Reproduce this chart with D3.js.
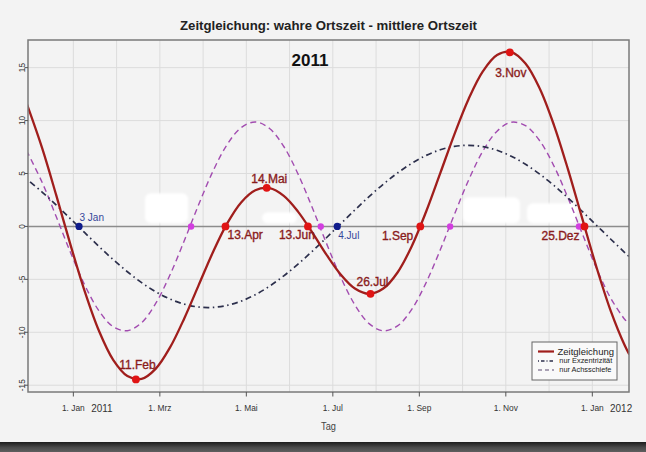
<!DOCTYPE html>
<html><head><meta charset="utf-8">
<script src="https://cdn.jsdelivr.net/npm/d3@7"></script>
<style>html,body{margin:0;padding:0;background:#f3f3f3;} svg{display:block;font-family:"Liberation Sans",Arial,sans-serif;}</style>
</head><body>
<svg id="c" width="646" height="452"></svg>
<script>
// ---- data (day offsets from 1 Jan 2011, values in minutes) ----
const days = [-33, -22, -12, -2, 8, 18, 28, 38, 48, 58, 68, 78, 88, 98, 108, 118, 128, 138, 148, 158, 168, 178, 188, 198, 208, 218, 228, 238, 248, 258, 268, 278, 288, 298, 308, 318, 328, 338, 348, 358, 368, 378, 388, 391];
const eotValues = [11.68, 7.42, 2.93, -1.74, -6.13, -9.86, -12.60, -14.13, -14.40, -13.43, -11.43, -8.69, -5.59, -2.49, 0.24, 2.27, 3.42, 3.61, 2.88, 1.40, -0.56, -2.66, -4.53, -5.86, -6.36, -5.87, -4.35, -1.87, 1.36, 5.01, 8.70, 12.04, 14.64, 16.19, 16.47, 15.39, 13.03, 9.58, 5.34, 0.71, -3.88, -8.00, -11.30, -12.08];
const eccValues = [4.50, 3.25, 2.02, 0.72, -0.59, -1.89, -3.13, -4.28, -5.31, -6.18, -6.86, -7.34, -7.61, -7.65, -7.46, -7.06, -6.45, -5.64, -4.67, -3.56, -2.35, -1.07, 0.25, 1.55, 2.82, 3.99, 5.05, 5.96, 6.70, 7.24, 7.56, 7.66, 7.53, 7.19, 6.63, 5.87, 4.94, 3.87, 2.68, 1.41, 0.10, -1.21, -2.49, -2.86];
const oblValues = [7.18, 4.17, 0.91, -2.46, -5.54, -7.97, -9.47, -9.85, -9.09, -7.25, -4.57, -1.35, 2.02, 5.16, 7.70, 9.33, 9.87, 9.25, 7.55, 4.96, 1.79, -1.59, -4.78, -7.41, -9.18, -9.86, -9.40, -7.83, -5.34, -2.23, 1.14, 4.38, 7.11, 9.00, 9.84, 9.52, 8.09, 5.71, 2.66, -0.70, -3.98, -6.79, -8.81, -9.22];

const eotDotDays = [44, 107, 136, 165, 209, 244, 307, 359.5];
const eotDotValues = [-14.45, 0, 3.65, 0, -6.37, 0, 16.45, 0];
const eotDotLabels = ["11.Feb", "13.Apr", "14.Mai", "13.Jun", "26.Jul", "1.Sep", "3.Nov", "25.Dez"];
const eccDotDays = [4, 185.6];
const eccDotValues = [0, 0];
const eccDotLabels = ["3 Jan", "4.Jul"];
const oblDotDays = [82.8, 174, 265, 355.6];
const oblDotValues = [0, 0, 0, 0];

const xTickLabels = ["1. Jan", "1. Mrz", "1. Mai", "1. Jul", "1. Sep", "1. Nov", "1. Jan"];
const yearLabels = ["2011", "2012"];
const yTicks = [-15, -10, -5, 0, 5, 10, 15];
const legendLabels = ["Zeitgleichung", "nur Exzentrizität", "nur Achsschiefe"];

// ---- layout ----
const svg = d3.select("#c");
const L = 28, R = 629, T = 40, B = 392;
const x = d3.scaleLinear().domain([-31.9, 390.8]).range([L, R]);
const y = d3.scaleLinear().domain([-15.64, 17.61]).range([B, T]);
const yearLen = 365;

const defs = svg.append("defs");
defs.append("clipPath").attr("id", "clip").append("rect").attr("x", L).attr("y", T).attr("width", R - L).attr("height", B - T);
defs.append("filter").attr("id", "soft").append("feGaussianBlur").attr("stdDeviation", 1.2);
const grad = defs.append("linearGradient").attr("id", "band").attr("x1", 0).attr("y1", 0).attr("x2", 0).attr("y2", 1);
grad.append("stop").attr("offset", "0%").attr("stop-color", "#1c1c1c");
grad.append("stop").attr("offset", "55%").attr("stop-color", "#4a4a4a");
grad.append("stop").attr("offset", "100%").attr("stop-color", "#5e5e5e");

svg.append("rect").attr("width", 646).attr("height", 452).attr("fill", "#f3f3f3");
svg.append("rect").attr("x", 0).attr("y", 442).attr("width", 646).attr("height", 10).attr("fill", "url(#band)");

// grid
const gridDays = d3.range(0, 13).map(i => i * yearLen / 12);
svg.append("g").selectAll("line").data(gridDays).join("line")
  .attr("x1", d => x(d)).attr("x2", d => x(d)).attr("y1", T).attr("y2", B)
  .attr("stroke", "#dcdcdc").attr("stroke-width", 1);
svg.append("g").selectAll("line").data(yTicks.filter(v => v !== 0)).join("line")
  .attr("x1", L).attr("x2", R).attr("y1", d => y(d)).attr("y2", d => y(d))
  .attr("stroke", "#dcdcdc").attr("stroke-width", 1);

// white patches (present in the reference image)
const patches = [[50.4, 80.7, 3.14, 0.29], [132.7, 157.3, 1.33, 0.29], [274, 314.1, 2.76, 0.29], [319.1, 354.2, 2.19, 0.29]];
svg.append("g").attr("filter", "url(#soft)").selectAll("rect").data(patches).join("rect")
  .attr("x", d => x(d[0])).attr("width", d => x(d[1]) - x(d[0]))
  .attr("y", d => y(d[2])).attr("height", d => y(d[3]) - y(d[2]))
  .attr("rx", 6).attr("fill", "#ffffff");

// zero line
svg.append("line").attr("x1", L).attr("x2", R).attr("y1", y(0)).attr("y2", y(0))
  .attr("stroke", "#8c8c8c").attr("stroke-width", 1.6);

// curves
const plot = svg.append("g").attr("clip-path", "url(#clip)");
const line = vals => d3.line().x((d, i) => x(days[i])).y(d => y(d)).curve(d3.curveCatmullRom.alpha(0.5))(vals);
plot.append("path").attr("d", line(oblValues)).attr("fill", "none")
  .attr("stroke", "#a24cb0").attr("stroke-width", 1.4).attr("stroke-dasharray", "6,4");
plot.append("path").attr("d", line(eccValues)).attr("fill", "none")
  .attr("stroke", "#2c2f4c").attr("stroke-width", 1.7).attr("stroke-dasharray", "1.5,3.5,6,3.5");
plot.append("path").attr("d", line(eotValues)).attr("fill", "none")
  .attr("stroke", "#a01e1c").attr("stroke-width", 2.3);

// frame
svg.append("rect").attr("x", L).attr("y", T).attr("width", R - L).attr("height", B - T)
  .attr("fill", "none").attr("stroke", "#7a7a7a").attr("stroke-width", 1.5);

// dots
svg.append("g").selectAll("circle").data(oblDotDays).join("circle")
  .attr("cx", d => x(d)).attr("cy", (d, i) => y(oblDotValues[i])).attr("r", 3.2).attr("fill", "#d23fe0");
svg.append("g").selectAll("circle").data(eccDotDays).join("circle")
  .attr("cx", d => x(d)).attr("cy", (d, i) => y(eccDotValues[i])).attr("r", 3.6).attr("fill", "#101c8c");
svg.append("g").selectAll("circle").data(eotDotDays).join("circle")
  .attr("cx", d => x(d)).attr("cy", (d, i) => y(eotDotValues[i])).attr("r", 3.9).attr("fill", "#e01414");

// labels
const eotOff = [[1.5, -10, "middle"], [2, 13, "start"], [2.5, -5, "middle"], [7, 13, "end"], [2, -8, "middle"], [-7, 14, "end"], [1, 24.5, "middle"], [-5, 14, "end"]];
svg.append("g").selectAll("text").data(eotDotLabels).join("text")
  .attr("x", (d, i) => x(eotDotDays[i]) + eotOff[i][0])
  .attr("y", (d, i) => y(eotDotValues[i]) + eotOff[i][1])
  .attr("text-anchor", (d, i) => eotOff[i][2])
  .attr("font-size", 12).attr("fill", "#8a1c1c").attr("stroke", "#8a1c1c").attr("stroke-width", 0.35)
  .text(d => d);
const eccOff = [[0.5, -5], [1, 13]];
svg.append("g").selectAll("text").data(eccDotLabels).join("text")
  .attr("x", (d, i) => x(eccDotDays[i]) + eccOff[i][0])
  .attr("y", (d, i) => y(eccDotValues[i]) + eccOff[i][1])
  .attr("font-size", 10).attr("fill", "#34469a").text(d => d);

function squeeze(sel, f) {
  sel.each(function () {
    const w = this.getComputedTextLength();
    d3.select(this).attr("textLength", w * f).attr("lengthAdjust", "spacingAndGlyphs");
  });
}

// x axis
const tickDays = xTickLabels.map((d, i) => i * yearLen / 6);
const xa = svg.append("g");
xa.selectAll("line").data(tickDays).join("line")
  .attr("x1", d => x(d)).attr("x2", d => x(d)).attr("y1", B).attr("y2", B + 4.5)
  .attr("stroke", "#555").attr("stroke-width", 1);
xa.selectAll("text.tl").data(xTickLabels).join("text").attr("class", "tl")
  .attr("x", (d, i) => x(tickDays[i])).attr("y", 411).attr("text-anchor", "middle")
  .attr("font-size", 9.5).attr("fill", "#333").text(d => d).call(squeeze, 0.88);
xa.selectAll("text.yr").data(yearLabels).join("text").attr("class", "yr")
  .attr("x", (d, i) => x(i * yearLen) + 17.8).attr("y", 411.5)
  .attr("font-size", 11).attr("fill", "#333").text(d => d).call(squeeze, 0.9);
svg.append("text").attr("x", (L + R) / 2).attr("y", 429.5).attr("text-anchor", "middle")
  .attr("font-size", 10).attr("fill", "#444").text("Tag").call(squeeze, 0.92);

// y axis
const ya = svg.append("g");
ya.selectAll("line").data(yTicks).join("line")
  .attr("x1", L - 3.5).attr("x2", L).attr("y1", d => y(d)).attr("y2", d => y(d))
  .attr("stroke", "#555").attr("stroke-width", 1);
ya.selectAll("text").data(yTicks).join("text")
  .attr("transform", d => `translate(24.8,${y(d)}) rotate(-90)`).attr("text-anchor", "middle")
  .attr("font-size", 8.2).attr("fill", "#333").text(d => d);

// titles
svg.append("text").attr("x", 328.5).attr("y", 30).attr("text-anchor", "middle")
  .attr("font-size", 13).attr("font-weight", "bold").attr("fill", "#222")
  .text("Zeitgleichung: wahre Ortszeit - mittlere Ortszeit")
  .attr("textLength", 297).attr("lengthAdjust", "spacingAndGlyphs");
svg.append("text").attr("x", 310).attr("y", 65.5).attr("text-anchor", "middle")
  .attr("font-size", 17).attr("font-weight", "bold").attr("fill", "#111").text("2011");

// legend
const lg = svg.append("g");
lg.append("rect").attr("x", 532).attr("y", 342).attr("width", 85).attr("height", 38)
  .attr("fill", "#f9f9f9").attr("stroke", "#666").attr("stroke-width", 1);
const legY = [351.5, 361, 370];
const legStyle = [["#a01e1c", 2.2, null], ["#2c2f4c", 1.3, "1,2,3.5,2"], ["#5a4a70", 1.2, "4,3"]];
lg.selectAll("line").data(legendLabels).join("line")
  .attr("x1", 538).attr("x2", 554).attr("y1", (d, i) => legY[i]).attr("y2", (d, i) => legY[i])
  .attr("stroke", (d, i) => legStyle[i][0]).attr("stroke-width", (d, i) => legStyle[i][1])
  .attr("stroke-dasharray", (d, i) => legStyle[i][2]);
lg.selectAll("text").data(legendLabels).join("text")
  .attr("x", (d, i) => i === 0 ? 557.5 : 559.3).attr("y", (d, i) => legY[i] + (i === 0 ? 3.2 : 2.4))
  .attr("font-size", (d, i) => i === 0 ? 9.5 : 7.4).attr("fill", "#222").text(d => d);
</script>
</body></html>
